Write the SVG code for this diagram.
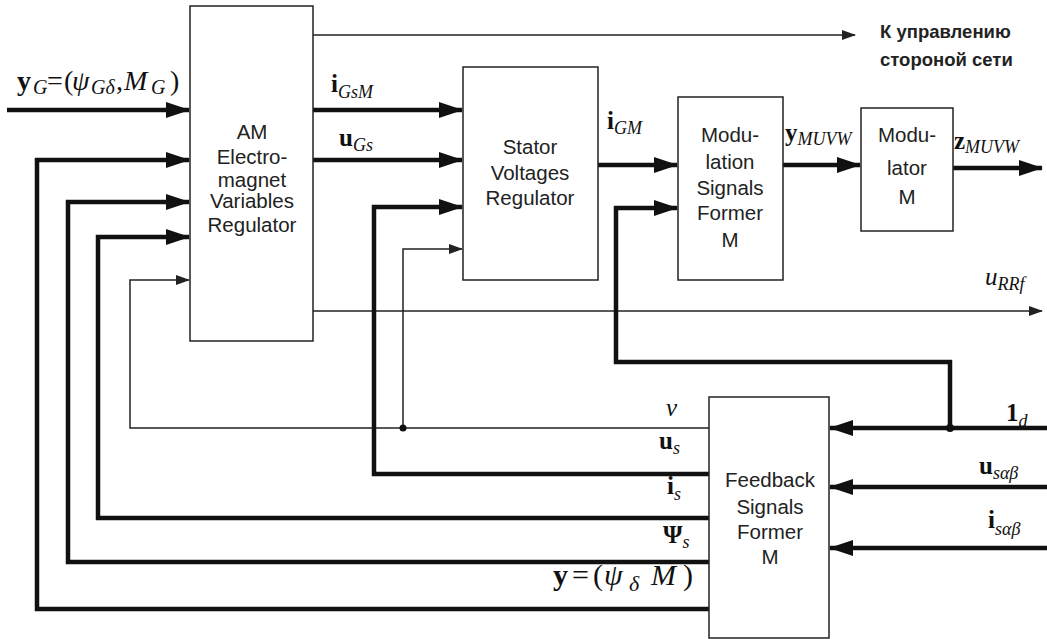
<svg xmlns="http://www.w3.org/2000/svg" width="1047" height="639" viewBox="0 0 1047 639">
<style>
.blk{fill:#fff;stroke:#222;stroke-width:1.5}
.bt{font-family:"Liberation Sans",Arial,sans-serif;font-size:20.5px;fill:#222;text-anchor:middle}
.ru{font-family:"Liberation Sans",Arial,sans-serif;font-size:18.5px;font-weight:bold;fill:#222}
.thick{fill:none;stroke:#111;stroke-width:4.5;stroke-linejoin:miter}
.thin{fill:none;stroke:#222;stroke-width:1.5}
.m{font-family:"Liberation Serif","Times New Roman",serif;font-size:25px;fill:#111}
.b{font-weight:bold}
.i{font-style:italic}
.s{font-style:italic;font-size:18px}
</style>
<defs>
<marker id="ah" markerUnits="userSpaceOnUse" markerWidth="24" markerHeight="16" refX="23" refY="8" orient="auto">
<path d="M0,0 L24,8 L0,16 z" fill="#111"/>
</marker>
<marker id="at" markerUnits="userSpaceOnUse" markerWidth="14" markerHeight="10" refX="13" refY="5" orient="auto">
<path d="M0,0 L14,5 L0,10 z" fill="#222"/>
</marker>
</defs>

<g id="connectors">
<path class="thick" d="M7,110 H189" marker-end="url(#ah)"/>
<path class="thin" d="M313,35 H855" marker-end="url(#at)"/>
<path class="thick" d="M313,110 H462" marker-end="url(#ah)"/>
<path class="thick" d="M313,160 H462" marker-end="url(#ah)"/>
<path class="thick" d="M598,165 H677" marker-end="url(#ah)"/>
<path class="thick" d="M783,165 H860" marker-end="url(#ah)"/>
<path class="thick" d="M953,168 H1042" marker-end="url(#ah)"/>
<path class="thin" d="M313,311 H1042" marker-end="url(#at)"/>
<path class="thick" d="M709,609 H37 V160 H189" marker-end="url(#ah)"/>
<path class="thick" d="M709,562 H68 V202 H189" marker-end="url(#ah)"/>
<path class="thick" d="M709,518 H98 V237 H189" marker-end="url(#ah)"/>
<path class="thin" d="M709,428 H130 V280 H189" marker-end="url(#at)"/>
<path class="thick" d="M709,474 H374 V207 H462" marker-end="url(#ah)"/>
<path class="thin" d="M403,428 V249 H462" marker-end="url(#at)"/>
<path class="thick" d="M1047,428 H830" marker-end="url(#ah)"/>
<path class="thick" d="M950,428 V362 H616 V208 H677" marker-end="url(#ah)"/>
<path class="thick" d="M1047,487 H830" marker-end="url(#ah)"/>
<path class="thick" d="M1047,548 H830" marker-end="url(#ah)"/>
<circle cx="403" cy="428" r="3.5" fill="#111"/>
<circle cx="950" cy="428" r="4" fill="#111"/>
</g>

<g id="am">
<rect class="blk" x="190" y="6" width="123" height="335"/>
<text class="bt" x="252" y="139">AM</text>
<text class="bt" x="252" y="164">Electro-</text>
<text class="bt" x="252" y="187">magnet</text>
<text class="bt" x="252" y="208">Variables</text>
<text class="bt" x="252" y="232">Regulator</text>
</g>

<g id="stator">
<rect class="blk" x="463" y="67" width="135" height="213"/>
<text class="bt" x="530" y="154">Stator</text>
<text class="bt" x="530" y="180">Voltages</text>
<text class="bt" x="530" y="205">Regulator</text>
</g>

<g id="modsig">
<rect class="blk" x="678" y="97" width="105" height="183"/>
<text class="bt" x="730" y="142">Modu-</text>
<text class="bt" x="730" y="169">lation</text>
<text class="bt" x="730" y="195">Signals</text>
<text class="bt" x="730" y="220">Former</text>
<text class="bt" x="730" y="247">M</text>
</g>

<g id="modulator">
<rect class="blk" x="861" y="108" width="92" height="123"/>
<text class="bt" x="907" y="142">Modu-</text>
<text class="bt" x="907" y="175">lator</text>
<text class="bt" x="907" y="204">M</text>
</g>

<g id="feedback">
<rect class="blk" x="709" y="397" width="120" height="241"/>
<text class="bt" x="770" y="487">Feedback</text>
<text class="bt" x="770" y="514">Signals</text>
<text class="bt" x="770" y="539">Former</text>
<text class="bt" x="770" y="564">M</text>
</g>

<g id="labels">
<text class="ru" x="880" y="38">К управлению</text>
<text class="ru" x="880" y="66">стороной сети</text>
<text class="m" y="90" style="font-size:28px"><tspan class="b" x="17">y</tspan><tspan class="s" x="33" y="94" style="font-size:20px">G</tspan><tspan x="47" y="90">=</tspan><tspan x="64">(</tspan><tspan class="i" x="72">ψ</tspan><tspan class="s" x="91" y="94" style="font-size:20px">Gδ</tspan><tspan x="116" y="90">,</tspan><tspan class="i" x="124">M</tspan><tspan class="s" x="151" y="94" style="font-size:20px">G</tspan><tspan x="170" y="90">)</tspan></text>
<text class="m" x="331" y="92"><tspan class="b">i</tspan><tspan class="s" dy="6">GsM</tspan></text>
<text class="m" x="339" y="146"><tspan class="b">u</tspan><tspan class="s" dy="5">Gs</tspan></text>
<text class="m" x="607" y="129"><tspan class="b">i</tspan><tspan class="s" dy="5">GM</tspan></text>
<text class="m" x="785" y="141"><tspan class="b">y</tspan><tspan class="s" dy="4">MUVW</tspan></text>
<text class="m" x="954" y="149"><tspan class="b">z</tspan><tspan class="s" dy="4">MUVW</tspan></text>
<text class="m" x="985" y="285"><tspan class="i">u</tspan><tspan class="s" dy="5">RRf</tspan></text>
<text class="m i" x="666" y="416">ν</text>
<text class="m" x="659" y="449"><tspan class="b">u</tspan><tspan class="s" dy="5">s</tspan></text>
<text class="m" x="667" y="494"><tspan class="b">i</tspan><tspan class="s" dy="6">s</tspan></text>
<text class="m" x="663" y="543"><tspan class="b">Ψ</tspan><tspan class="s" dy="5">s</tspan></text>
<text class="m" y="585" style="font-size:30px"><tspan class="b" x="553">y</tspan><tspan x="572">=</tspan><tspan x="593">(</tspan><tspan class="i" x="604">ψ</tspan><tspan class="s" x="629" y="591" style="font-size:22px">δ</tspan><tspan class="i" x="651" y="585">M</tspan><tspan x="683">)</tspan></text>
<text class="m" x="1006" y="421"><tspan class="b">1</tspan><tspan class="s" dy="6">d</tspan></text>
<text class="m" x="979" y="474"><tspan class="b">u</tspan><tspan class="s" dy="5">sαβ</tspan></text>
<text class="m" x="988" y="528"><tspan class="b">i</tspan><tspan class="s" dy="7">sαβ</tspan></text>
</g>
</svg>
